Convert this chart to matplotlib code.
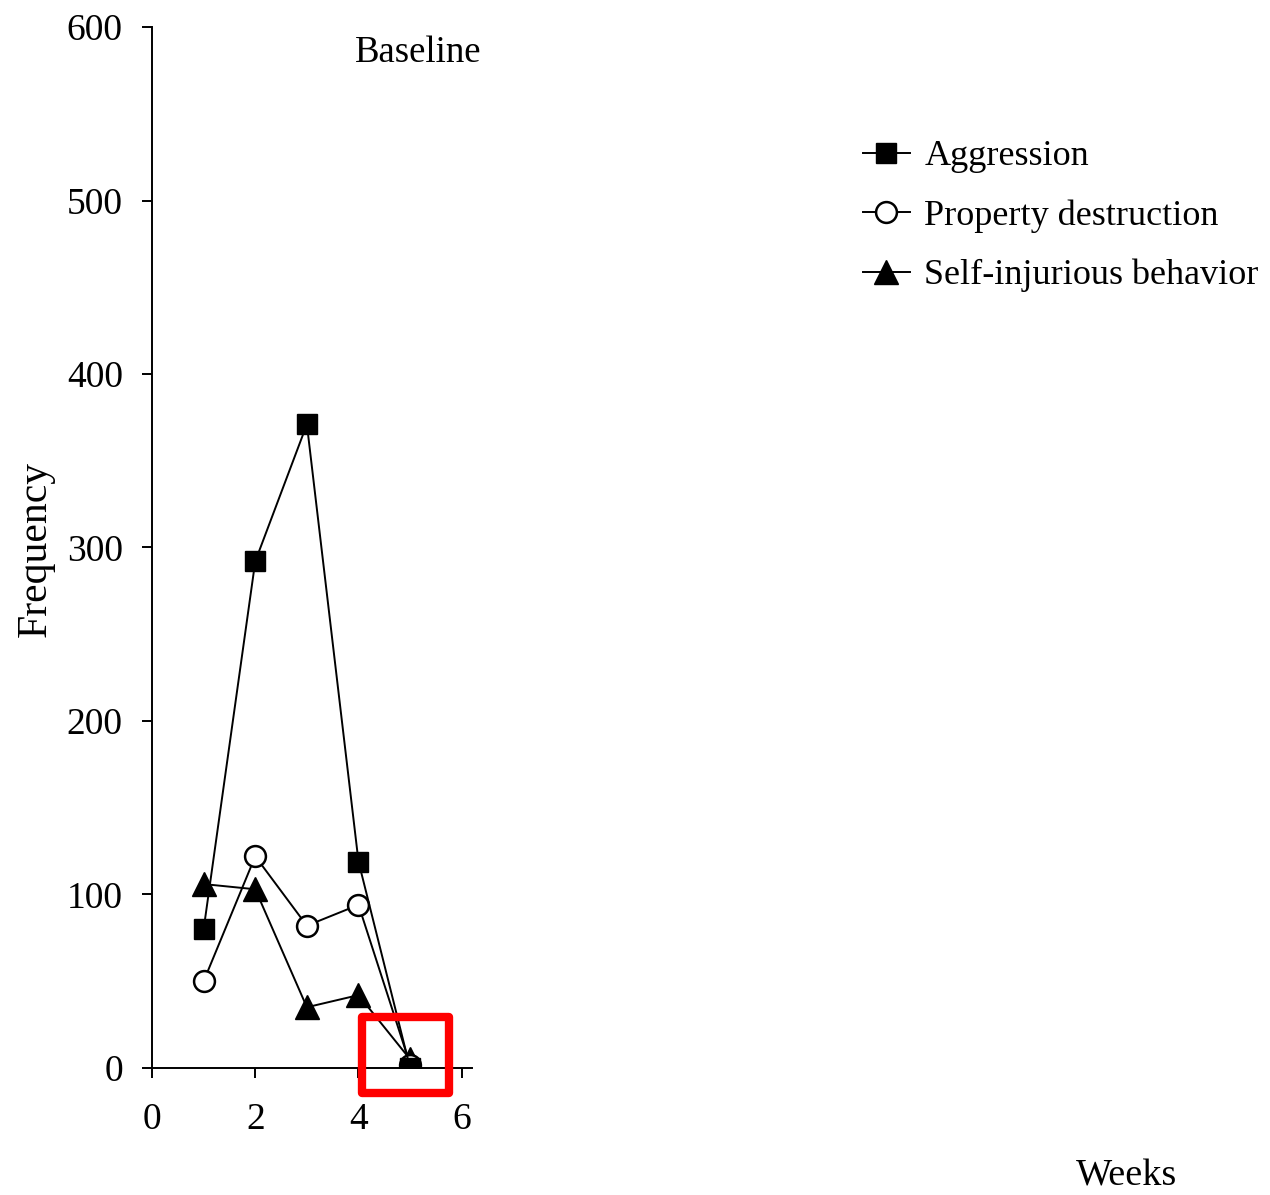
import matplotlib.pyplot as plt
from matplotlib.patches import Rectangle

weeks = [1, 2, 3, 4, 5]
aggression = [80, 292, 371, 119, 0]
property_destruction = [50, 122, 82, 94, 2]
self_injurious = [106, 103, 35, 42, 5]

labels = ["Aggression", "Property destruction", "Self-injurious behavior"]
y_ticks = [0, 100, 200, 300, 400, 500, 600]
x_ticks = [0, 2, 4, 6]

plt.rcParams['font.family'] = ['Liberation Serif', 'DejaVu Serif']

fig = plt.figure(figsize=(12.7, 11.95), dpi=100)
ax = fig.add_axes([0.1197, 0.1063, 0.252, 0.8711])

l3, = ax.plot(weeks, self_injurious, color="black", lw=1.4, marker="^",
              markersize=17, markerfacecolor="black", zorder=3)
l2, = ax.plot(weeks, property_destruction, color="black", lw=1.4, marker="o",
              markersize=15, markerfacecolor="white", markeredgewidth=1.8, zorder=4)
l1, = ax.plot(weeks, aggression, color="black", lw=1.4, marker="s",
              markersize=15, markerfacecolor="black", zorder=5)

ax.set_xlim(0, 6.2)
ax.set_ylim(0, 600)
ax.set_xticks(x_ticks)
ax.set_yticks(y_ticks)
ax.spines['top'].set_visible(False)
ax.spines['right'].set_visible(False)
ax.spines['left'].set_linewidth(1.4)
ax.spines['bottom'].set_linewidth(1.4)
ax.tick_params(axis='both', direction='out', length=7, width=1.4, labelsize=27)
ax.tick_params(axis='x', pad=18)
ax.tick_params(axis='y', pad=14)

ax.text(5.15, 585, "Baseline", fontsize=26.5, ha="center", va="center")

fig.text(0.028, 0.541, "Frequency", fontsize=30, rotation=90, ha="center", va="center")
fig.text(0.887, 0.016, "Weeks", fontsize=27.5, ha="center", va="center")

fig.legend([l1, l2, l3], labels, loc="upper left", bbox_to_anchor=(0.668, 0.895),
           frameon=False, fontsize=26, handlelength=1.3, handletextpad=0.4,
           labelspacing=0.72, borderaxespad=0)

# red highlight box
ax.add_patch(Rectangle((4.06, -14.4), 1.69, 43.8, fill=False, edgecolor="#ff0000",
                       linewidth=6, joinstyle="round", clip_on=False, zorder=6))

fig.savefig("out.png", dpi=100)
